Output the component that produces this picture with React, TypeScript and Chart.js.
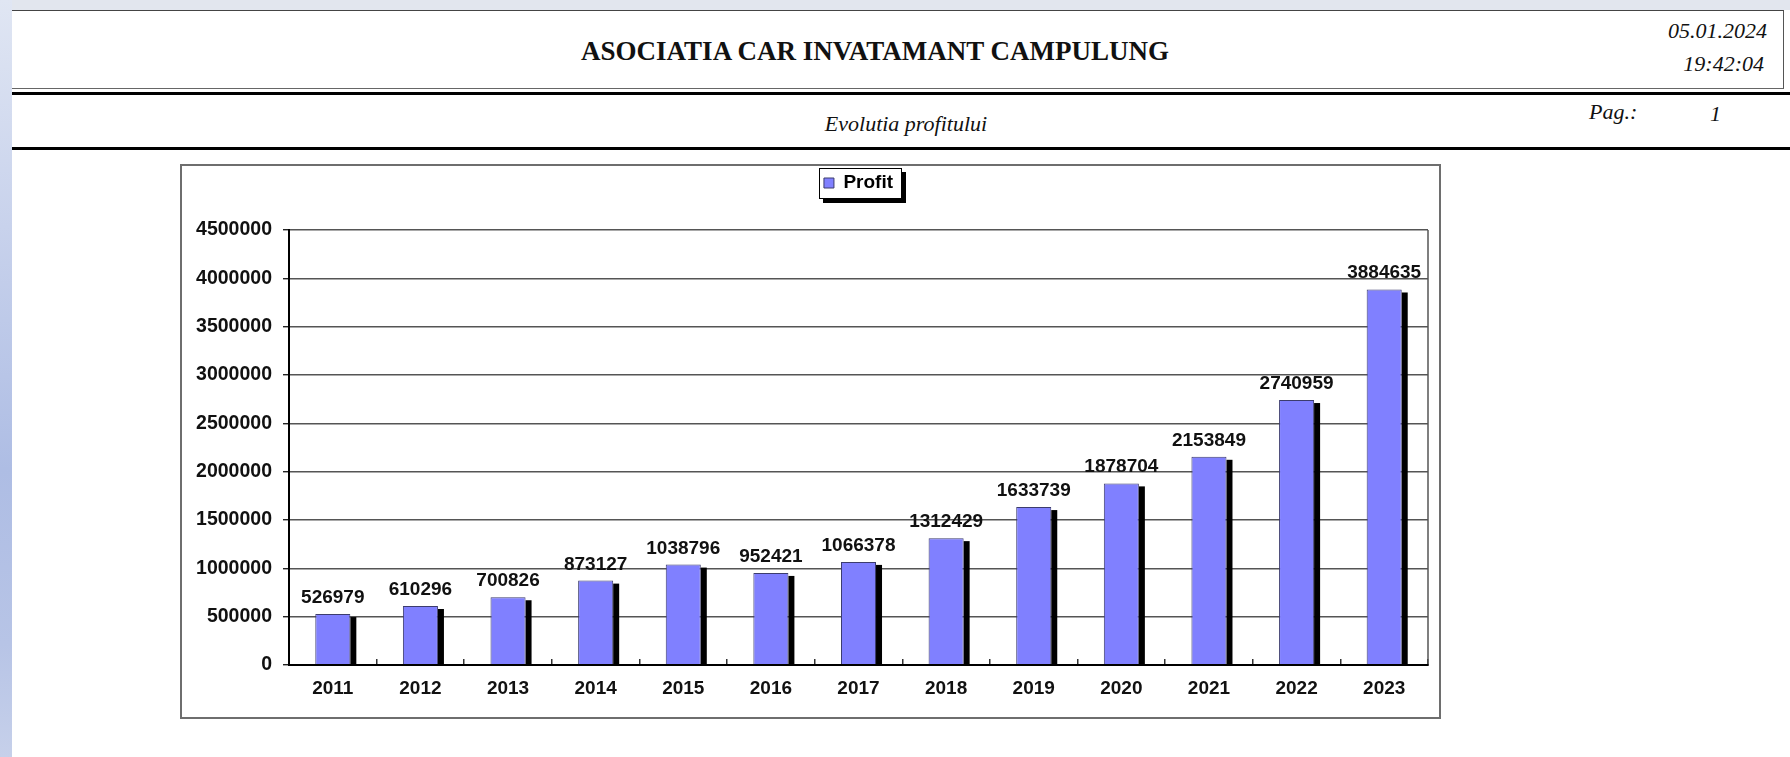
import React, { useEffect, useRef } from 'react';
import { Chart, registerables } from 'chart.js';

Chart.register(...registerables);

// ---- data ----
const YEARS = ['2011', '2012', '2013', '2014', '2015', '2016', '2017', '2018', '2019', '2020', '2021', '2022', '2023'];
const PROFIT = [526979, 610296, 700826, 873127, 1038796, 952421, 1066378, 1312429, 1633739, 1878704, 2153849, 2740959, 3884635];
const SERIES_LABEL = 'Profit';
const Y_MIN = 0;
const Y_MAX = 4500000;
const Y_STEP = 500000;

// ---- header texts ----
const REPORT_TITLE = 'ASOCIATIA CAR INVATAMANT CAMPULUNG';
const REPORT_DATE = '05.01.2024';
const REPORT_TIME = '19:42:04';
const REPORT_SUBTITLE = 'Evolutia profitului';
const PAGE_LABEL = 'Pag.:';
const PAGE_NUMBER = '1';

const SANS = '"Liberation Sans", Arial, sans-serif';
const SERIF = '"Liberation Serif", "Times New Roman", serif';
const BAR_COLOR = '#8080ff';

const legendSpacer = {
  id: 'legendSpacer',
  afterInit(chart: any) {
    const lg = chart.legend;
    if (!lg || lg.__patched) return;
    const orig = lg.fit;
    lg.fit = function () {
      orig.call(this);
      this.height += 27.5;
    };
    lg.__patched = true;
  },
};

const legendFrame = {
  id: 'legendFrame',
  beforeDraw(chart: any) {
    const lg = chart.legend;
    if (!lg || !lg.legendHitBoxes || !lg.legendHitBoxes.length) return;
    const hb = lg.legendHitBoxes[0];
    const ctx = chart.ctx;
    const x = Math.round(hb.left - 5);
    const y = Math.round(hb.top - 6);
    const w = Math.round(hb.width + 14);
    const h = Math.round(hb.height + 12);
    ctx.save();
    ctx.fillStyle = '#000';
    ctx.fillRect(x + 4, y + 4, w, h);
    ctx.fillStyle = '#fff';
    ctx.fillRect(x, y, w, h);
    ctx.strokeStyle = '#000';
    ctx.lineWidth = 1;
    ctx.strokeRect(x + 0.5, y + 0.5, w - 1, h - 1);
    ctx.restore();
  },
};

const barDecor = {
  id: 'barDecor',
  beforeDatasetsDraw(chart: any) {
    const ctx = chart.ctx;
    const area = chart.chartArea;
    ctx.save();
    // right border of the plot area
    ctx.strokeStyle = '#555';
    ctx.lineWidth = 1.5;
    ctx.beginPath();
    ctx.moveTo(area.right, area.top);
    ctx.lineTo(area.right, area.bottom);
    ctx.stroke();
    // bar shadows
    ctx.fillStyle = '#000';
    const meta = chart.getDatasetMeta(0);
    meta.data.forEach((bar: any) => {
      const p = bar.getProps(['x', 'y', 'base', 'width'], true);
      ctx.fillRect(p.x + p.width / 2, p.y + 3, 6, p.base - p.y - 3);
    });
    ctx.restore();
  },
  afterDatasetsDraw(chart: any) {
    const ctx = chart.ctx;
    const meta = chart.getDatasetMeta(0);
    const values = chart.data.datasets[0].data;
    ctx.save();
    ctx.font = `bold 19px ${SANS}`;
    ctx.fillStyle = '#111';
    ctx.textAlign = 'center';
    ctx.textBaseline = 'alphabetic';
    meta.data.forEach((bar: any, i: number) => {
      const p = bar.getProps(['x', 'y'], true);
      ctx.fillText(String(values[i]), p.x, p.y - 11);
    });
    ctx.restore();
  },
};

function ProfitChart() {
  const ref = useRef<HTMLCanvasElement | null>(null);
  useEffect(() => {
    if (!ref.current) return;
    const font = { family: SANS, size: 19, weight: 'bold' as const };
    const chart = new Chart(ref.current, {
      type: 'bar',
      data: {
        labels: YEARS,
        datasets: [
          {
            label: SERIES_LABEL,
            data: PROFIT,
            backgroundColor: BAR_COLOR,
            borderColor: '#3c3c6e',
            borderWidth: 1,
            categoryPercentage: 1,
            barPercentage: 0.4,
          },
        ],
      },
      options: {
        responsive: false,
        animation: false,
        devicePixelRatio: 1,
        layout: { padding: { left: 189, right: 362, top: 163.5, bottom: 52 } },
        plugins: {
          legend: {
            display: true,
            position: 'top',
            fullSize: false,
            labels: { boxWidth: 10, boxHeight: 10, padding: 10, color: '#000', font },
          },
          tooltip: { enabled: false },
          title: { display: false },
        },
        scales: {
          x: {
            grid: { drawOnChartArea: false, drawTicks: true, tickLength: -6, offset: true, color: '#333', lineWidth: 1.5 },
            border: { color: '#000', width: 2, z: 1 },
            ticks: { font, color: '#111', padding: 18.5 },
            afterFit: (s: any) => { s.height = 40; },
          },
          y: {
            min: Y_MIN,
            max: Y_MAX,
            ticks: { stepSize: Y_STEP, font: { ...font, size: 19.5 }, color: '#111', padding: 11, callback: (v: any) => String(v) },
            grid: { color: '#555', lineWidth: 1.4, tickLength: 6, tickColor: '#222' },
            border: { color: '#000', width: 2 },
            afterFit: (s: any) => { s.width = 100; },
          },
        },
      },
      plugins: [legendSpacer, legendFrame, barDecor],
    });
    return () => chart.destroy();
  }, []);
  return (
    <canvas
      ref={ref}
      width={1790}
      height={757}
      style={{ position: 'absolute', left: 0, top: 0, width: 1790, height: 757 }}
    />
  );
}

function Txt(props: { text: string; cx?: number; right?: number; left?: number; cy: number; font: string }) {
  const h = 40;
  const style: any = {
    position: 'absolute',
    top: props.cy - h / 2,
    height: h,
    lineHeight: `${h}px`,
    font: props.font,
    color: '#111',
    whiteSpace: 'nowrap',
  };
  if (props.cx !== undefined) {
    style.left = props.cx - 600;
    style.width = 1200;
    style.textAlign = 'center';
  } else if (props.right !== undefined) {
    style.left = props.right - 300;
    style.width = 300;
    style.textAlign = 'right';
  } else {
    style.left = props.left;
  }
  return <div style={style}>{props.text}</div>;
}

export default function App() {
  return (
    <div style={{ position: 'absolute', left: 0, top: 0, width: 1790, height: 757, overflow: 'hidden', background: '#fff' }}>
      {/* window chrome */}
      <div style={{ position: 'absolute', left: 0, top: 0, width: 1790, height: 10, background: '#e2e6ee' }} />
      <div
        style={{
          position: 'absolute', left: 0, top: 0, width: 12, height: 757,
          background: 'linear-gradient(180deg, #e0e6f3 0%, #c8d2ec 30%, #aebde4 62%, #b7c4e6 85%, #c6d0ea 100%)',
        }}
      />
      {/* title box */}
      <div style={{ position: 'absolute', left: 12, top: 10, width: 1772, height: 79, boxSizing: 'border-box', borderTop: '1.5px solid #444', borderRight: '1.5px solid #555', borderBottom: '1px solid #666', background: '#fff' }} />
      <div style={{ position: 'absolute', left: 12, top: 92, width: 1778, height: 3, background: '#000' }} />
      <div style={{ position: 'absolute', left: 12, top: 147, width: 1778, height: 3, background: '#000' }} />
      <Txt text={REPORT_TITLE} cx={875} cy={56} font={`bold 27px ${SERIF}`} />
      <Txt text={REPORT_DATE} right={1767} cy={38} font={`italic 22px ${SERIF}`} />
      <Txt text={REPORT_TIME} right={1764} cy={71} font={`italic 22px ${SERIF}`} />
      <Txt text={REPORT_SUBTITLE} cx={906} cy={131} font={`italic 22px ${SERIF}`} />
      <Txt text={PAGE_LABEL} left={1589} cy={119} font={`italic 22px ${SERIF}`} />
      <Txt text={PAGE_NUMBER} left={1710} cy={121} font={`italic 22px ${SERIF}`} />
      {/* chart frame */}
      <div style={{ position: 'absolute', left: 180, top: 164, width: 1261, height: 555, boxSizing: 'border-box', border: '2px solid #6e6e6e', background: '#fff' }} />
      <ProfitChart />
    </div>
  );
}
